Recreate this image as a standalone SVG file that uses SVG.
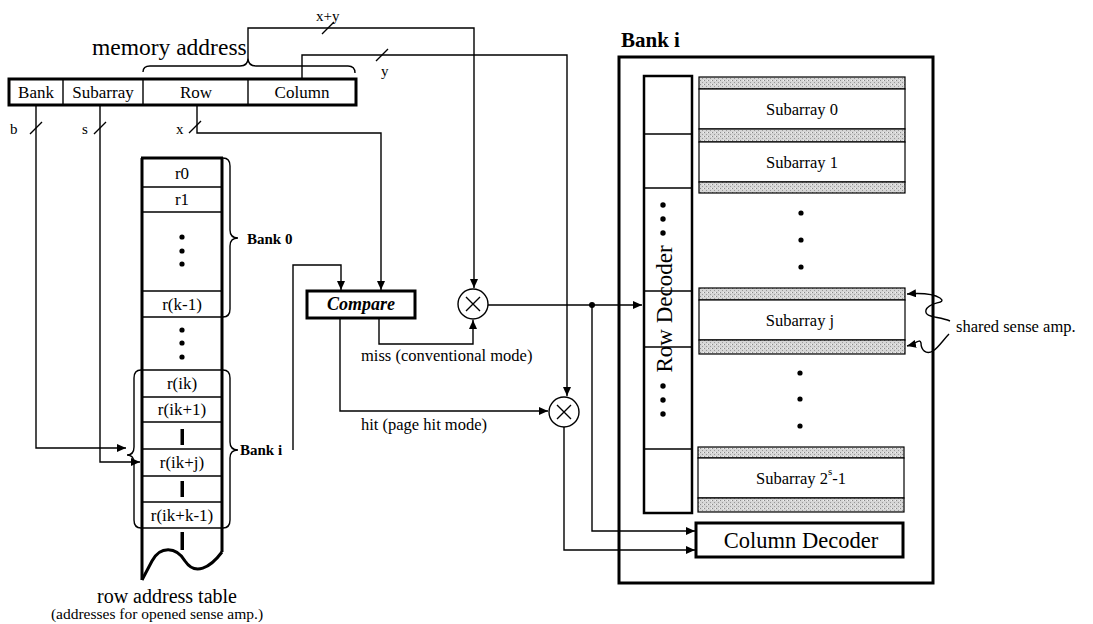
<svg xmlns="http://www.w3.org/2000/svg" width="1093" height="624" viewBox="0 0 1093 624">
<defs>
<style>
.t{font-family:"Liberation Serif","Times New Roman",serif;fill:#000}
.b{font-weight:bold}
.ln{stroke:#000;stroke-width:1.4;fill:none}
.th{stroke:#000;stroke-width:3;fill:none}
.box{stroke:#000;stroke-width:3;fill:#fff}
.cell{stroke:#000;stroke-width:1.2;fill:#fff}
.amp{stroke:#000;stroke-width:1.2;fill:url(#dither)}
.dot{fill:#000}
</style>
<pattern id="dither" width="4" height="4" patternUnits="userSpaceOnUse">
<rect width="4" height="4" fill="#d6d6d6"/>
<rect x="0" y="0" width="1" height="1" fill="#8a8a8a"/>
<rect x="2" y="2" width="1" height="1" fill="#9a9a9a"/>
<rect x="3" y="0" width="1" height="1" fill="#f2f2f2"/>
</pattern>
<marker id="arr" markerUnits="userSpaceOnUse" markerWidth="9" markerHeight="8" refX="9" refY="4" orient="auto">
<path d="M0,0 L9,4 L0,8 z" fill="#000"/>
</marker>
</defs>
<rect width="1093" height="624" fill="#fff"/>

<g id="memory-address">
<text class="t" x="92" y="55" font-size="23.5">memory address</text>
<path class="ln" d="M143,72 Q143,66 150,66 L240,66 Q248,66 248,58 Q248,66 256,66 L348,66 Q355,66 355,73"/>
<rect class="box" x="9" y="79" width="347" height="26"/>
<line class="ln" x1="63" y1="79" x2="63" y2="105"/>
<line class="ln" x1="143" y1="79" x2="143" y2="105"/>
<line class="ln" x1="248" y1="79" x2="248" y2="105"/>
<text class="t" x="36" y="98" font-size="17" text-anchor="middle">Bank</text>
<text class="t" x="103" y="98" font-size="17" text-anchor="middle">Subarray</text>
<text class="t" x="196" y="98" font-size="17" text-anchor="middle">Row</text>
<text class="t" x="302" y="98" font-size="17" text-anchor="middle">Column</text>
</g>

<g id="row-address-table">
<path class="th" d="M142,158 L142,580"/>
<path class="th" d="M222,158 L222,552"/>
<path class="th" d="M141,158 L223,158"/>
<path class="th" d="M142,580 L152,561 C160,546 176,546 185,561 C195,576 210,568 222,552"/>
<g class="ln">
<line x1="142" y1="187" x2="222" y2="187"/>
<line x1="142" y1="212" x2="222" y2="212"/>
<line x1="142" y1="291" x2="222" y2="291"/>
<line x1="142" y1="317" x2="222" y2="317"/>
<line x1="142" y1="370" x2="222" y2="370"/>
<line x1="142" y1="397" x2="222" y2="397"/>
<line x1="142" y1="422" x2="222" y2="422"/>
<line x1="142" y1="449" x2="222" y2="449"/>
<line x1="142" y1="476" x2="222" y2="476"/>
<line x1="142" y1="502" x2="222" y2="502"/>
<line x1="142" y1="528" x2="222" y2="528"/>
</g>
<g class="t" font-size="17" text-anchor="middle">
<text x="182" y="179">r0</text>
<text x="182" y="205">r1</text>
<text x="182" y="310">r(k-1)</text>
<text x="182" y="389">r(ik)</text>
<text x="182" y="415">r(ik+1)</text>
<text x="182" y="468">r(ik+j)</text>
<text x="182" y="521">r(ik+k-1)</text>
</g>
<circle class="dot" cx="182" cy="237" r="2.6"/>
<circle class="dot" cx="182" cy="251" r="2.6"/>
<circle class="dot" cx="182" cy="264" r="2.6"/>
<circle class="dot" cx="182" cy="330" r="2.6"/>
<circle class="dot" cx="182" cy="343" r="2.6"/>
<circle class="dot" cx="182" cy="357" r="2.6"/>
<rect x="180.5" y="429" width="3.5" height="16" fill="#000"/>
<rect x="180.5" y="481" width="3.5" height="16" fill="#000"/>
<rect x="180.5" y="532" width="3.5" height="18" fill="#000"/>
<path class="ln" d="M223,158 Q230,158 230,166 L230,230 Q230,238 238,238 Q230,238 230,246 L230,309 Q230,317 223,317"/>
<path class="ln" d="M223,370 Q230,370 230,378 L230,442 Q230,450 238,450 Q230,450 230,458 L230,520 Q230,528 223,528"/>
<path class="ln" d="M141,370 Q134,370 134,378 L134,447 Q134,455 127,455 Q134,455 134,463 L134,520 Q134,528 141,528"/>
<text class="t b" x="247" y="244" font-size="15">Bank 0</text>
<text class="t b" x="240" y="455" font-size="15">Bank i</text>
<text class="t" x="167" y="603" font-size="20" text-anchor="middle">row address table</text>
<text class="t" x="157" y="619" font-size="15.5" text-anchor="middle">(addresses for opened sense amp.)</text>
</g>

<g id="compare">
<rect class="box" x="307" y="291" width="108" height="27"/>
<text class="t b" x="361" y="310" font-size="18" font-style="italic" text-anchor="middle">Compare</text>
</g>

<g id="mux-miss">
<circle cx="473" cy="304" r="15" class="ln" fill="#fff"/>
<path class="ln" d="M466,297 L480,311 M480,297 L466,311"/>
</g>
<g id="mux-hit">
<circle cx="564" cy="412" r="15" class="ln" fill="#fff"/>
<path class="ln" d="M557,405 L571,419 M571,405 L557,419"/>
</g>

<g id="bank-i">
<text class="t b" x="621" y="47" font-size="21">Bank i</text>
<rect class="th" x="619" y="57" width="314" height="526"/>
<g id="row-decoder">
<rect x="644" y="76" width="48" height="437" fill="#fff" stroke="#000" stroke-width="2.5"/>
<g class="ln">
<line x1="644" y1="134" x2="692" y2="134"/>
<line x1="644" y1="188" x2="692" y2="188"/>
<line x1="644" y1="291" x2="692" y2="291"/>
<line x1="644" y1="347" x2="692" y2="347"/>
<line x1="644" y1="449" x2="692" y2="449"/>
</g>
<text class="t" font-size="23" text-anchor="middle" transform="translate(672,309) rotate(-90)">Row Decoder</text>
<circle class="dot" cx="663" cy="205" r="2.7"/>
<circle class="dot" cx="663" cy="219" r="2.7"/>
<circle class="dot" cx="663" cy="233" r="2.7"/>
<circle class="dot" cx="663" cy="386" r="2.7"/>
<circle class="dot" cx="663" cy="400" r="2.7"/>
<circle class="dot" cx="663" cy="414" r="2.7"/>
</g>
<g id="subarray-0">
<rect class="amp" x="699" y="77" width="206" height="12"/>
<rect class="cell" x="699" y="89" width="206" height="40"/>
<rect class="amp" x="699" y="129" width="206" height="13"/>
<text class="t" x="802" y="115" font-size="16.5" text-anchor="middle">Subarray 0</text>
</g>
<g id="subarray-1">
<rect class="cell" x="699" y="142" width="206" height="40"/>
<rect class="amp" x="699" y="182" width="206" height="11"/>
<text class="t" x="802" y="168" font-size="16.5" text-anchor="middle">Subarray 1</text>
</g>
<circle class="dot" cx="801" cy="213" r="2.6"/>
<circle class="dot" cx="801" cy="240" r="2.6"/>
<circle class="dot" cx="801" cy="267" r="2.6"/>
<g id="subarray-j">
<rect class="amp" x="699" y="288" width="206" height="12"/>
<rect class="cell" x="699" y="300" width="206" height="40"/>
<rect class="amp" x="699" y="340" width="206" height="14"/>
<text class="t" x="800" y="326" font-size="16.5" text-anchor="middle">Subarray j</text>
</g>
<circle class="dot" cx="800" cy="373" r="2.6"/>
<circle class="dot" cx="800" cy="399" r="2.6"/>
<circle class="dot" cx="800" cy="426" r="2.6"/>
<g id="subarray-last">
<rect class="amp" x="698" y="447" width="206" height="11"/>
<rect class="cell" x="698" y="458" width="206" height="40"/>
<rect class="amp" x="698" y="498" width="206" height="14"/>
<text class="t" x="801" y="484" font-size="16.5" text-anchor="middle">Subarray 2<tspan font-size="11" dy="-9">s</tspan><tspan dy="9">-1</tspan></text>
</g>
<g id="column-decoder">
<rect class="box" x="696" y="523" width="207" height="34"/>
<text class="t" x="801" y="548" font-size="22.5" text-anchor="middle">Column Decoder</text>
</g>
<text class="t" x="956" y="332" font-size="16.5">shared sense amp.</text>
</g>

<g id="connectors" class="ln">
<path d="M248,58 L248,28 L474,28 L474,288" marker-end="url(#arr)"/>
<path d="M302,79 L302,55 L567,55 L567,396" marker-end="url(#arr)"/>
<path d="M197,105 L197,133 L381,133 L381,290" marker-end="url(#arr)"/>
<path d="M293,450 L293,265 L341,265 L341,290" marker-end="url(#arr)"/>
<path d="M36,105 L36,448 L126,448" marker-end="url(#arr)"/>
<path d="M100,105 L100,462 L140,462" marker-end="url(#arr)"/>
<path d="M379,318 L379,344 L473,344 L473,320" marker-end="url(#arr)"/>
<path d="M340,318 L340,411 L548,411" marker-end="url(#arr)"/>
<path d="M488,305 L642,305" marker-end="url(#arr)"/>
<circle cx="592" cy="305" r="3" fill="#000" stroke="none"/>
<path d="M592,305 L592,531 L695,531" marker-end="url(#arr)"/>
<path d="M564,427 L564,550 L695,550" marker-end="url(#arr)"/>
<path d="M950,321 C938,316 924,318 926,310 C929,301 948,304 940,298 C932,293 920,293 907,294" marker-end="url(#arr)"/>
<path d="M949,334 C943,340 939,347 933,351 C926,355 921,350 921,343 C920,338 915,344 907,346" marker-end="url(#arr)"/>
<path d="M30,134 L42,122 M94,134 L106,122 M189,133 L201,121 M322,34 L334,22 M376,61 L388,49"/>
</g>
<g class="t" font-size="15">
<text x="10" y="134">b</text>
<text x="82" y="134">s</text>
<text x="176" y="134">x</text>
<text x="316" y="21">x+y</text>
<text x="381" y="76">y</text>
</g>
<text class="t" x="361" y="361" font-size="16.5">miss (conventional mode)</text>
<text class="t" x="361" y="430" font-size="16.5">hit (page hit mode)</text>
</svg>
